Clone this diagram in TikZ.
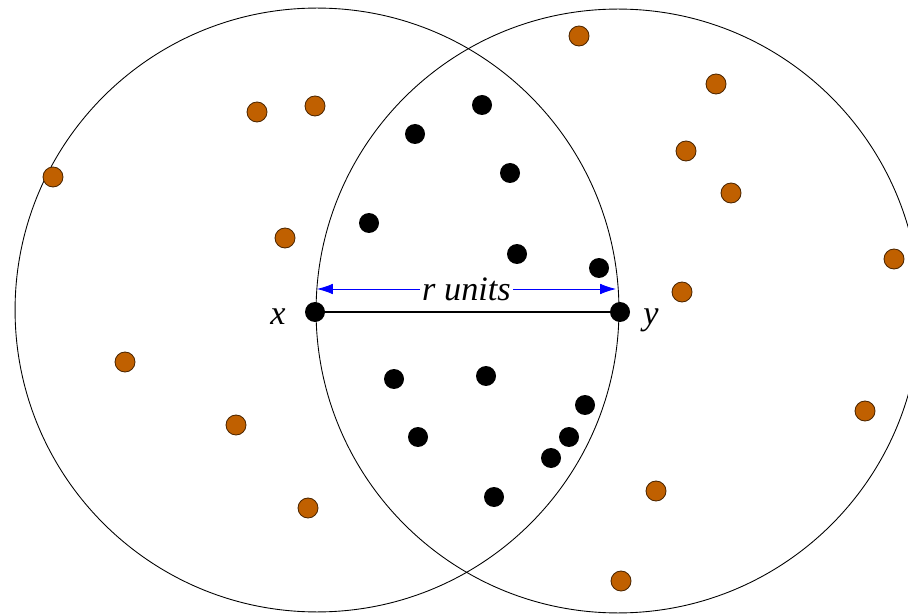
\documentclass[tikz,border=0pt]{standalone}
\usepackage{fontspec}
\setmainfont{Liberation Serif}
\usepackage{xcolor}
\usetikzlibrary{arrows.meta}
\definecolor{ptorange}{HTML}{C06000}
\definecolor{arrblue}{HTML}{0000FF}

\begin{document}
\begin{tikzpicture}[x=0.02cm, y=-0.02cm,
  outer/.style={circle, draw=ptorange!40!black, fill=ptorange, line width=0.5pt,
                minimum size=0.4cm, inner sep=0pt},
  inner/.style={circle, fill=black, minimum size=0.4cm, inner sep=0pt},
  ptlbl/.style={font=\fontsize{19.5}{22}\selectfont\itshape},
]
\useasboundingbox (0,0) rectangle (908,614);
\draw[line width=0.5pt] (317,310) circle (6.04cm);
\draw[line width=0.5pt] (618,311) circle (6.04cm);
% points in only one of the two circles
\foreach \p [count=\i] in {(579,36),(716,84),(257,112),(315,106),(53,177),(686,151),
    (731,193),(285,238),(894,259),(682,292),(125,362),(236,425),(865,411),
    (656,491),(308,508),(621,581)}
  \node[outer] (o\i) at \p {};
% points in the lens
\foreach \p [count=\i] in {(482,105),(415,134),(510,173),(369,223),(517,254),
    (599,268),(394,379),(486,376),(585,405),(418,437),(569,437),(551,458),(494,497)}
  \node[inner] (b\i) at \p {};
\node[inner] (px) at (315,312) {};
\node[inner] (py) at (620,312) {};
\draw[line width=1.1pt] (px) -- (py);
\node[ptlbl] (lx) at (278,317) {x};
\node[ptlbl] (ly) at (651,320) {y};
\coordinate (al) at (317,289);
\coordinate (ar) at (616,289);
\draw[arrblue, line width=0.5pt, {Latex[length=9pt,width=6pt]}-{Latex[length=9pt,width=6pt]}] (al) --
  node[ptlbl, fill=white, inner sep=1pt, text=black] (rl) {r units} (ar);
\end{tikzpicture}
\end{document}
